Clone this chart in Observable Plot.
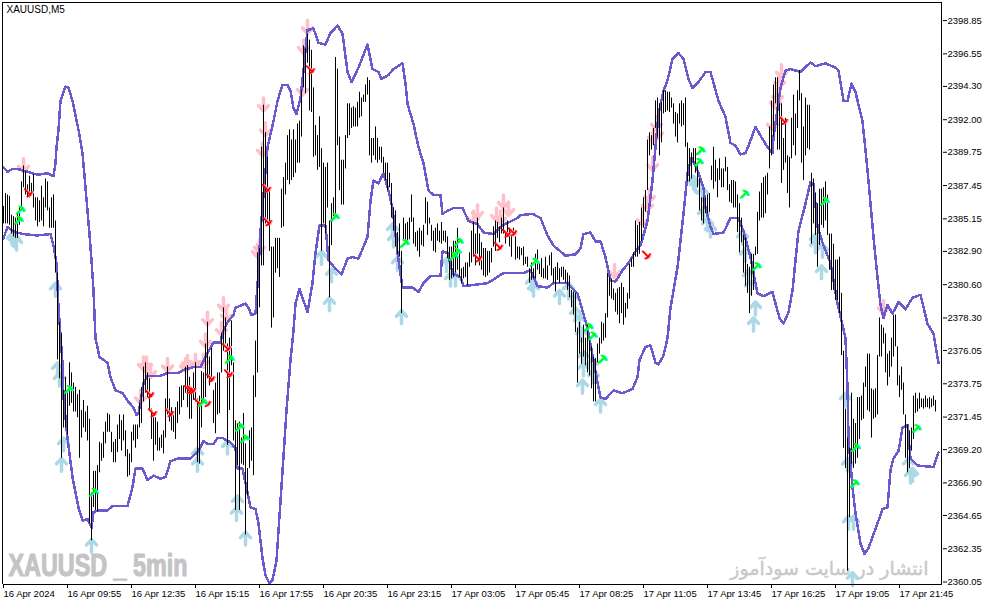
<!DOCTYPE html>
<html><head><meta charset="utf-8">
<script src="https://cdn.jsdelivr.net/npm/d3@7"></script>
<script src="https://cdn.jsdelivr.net/npm/@observablehq/plot@0.6"></script>
<style>html,body{margin:0;padding:0;background:#fff}svg{display:block}</style>
</head><body><div id="chart"></div>
<script>
const chartTitle = "XAUUSD,M5";
const watermarkLeft = "XAUUSD _ 5min";
const watermarkRight = "انتشار در سایت سودآموز";
const priceTicks = [2398.85,2396.55,2394.30,2392.00,2389.75,2387.45,2385.15,2382.90,2380.60,2378.30,2376.05,2373.75,2371.45,2369.20,2366.90,2364.65,2362.35,2360.05];
const timeLabels = ["16 Apr 2024","16 Apr 09:55","16 Apr 12:35","16 Apr 15:15","16 Apr 17:55","16 Apr 20:35","16 Apr 23:15","17 Apr 03:05","17 Apr 05:45","17 Apr 08:25","17 Apr 11:05","17 Apr 13:45","17 Apr 16:25","17 Apr 19:05","17 Apr 21:45"];
const barsPerLabel = 32;

// [high, low] of each 5-minute bar
const barsA = [[2386.0,2384.8],[2386.9,2384.8],[2386.8,2384.8],[2386.7,2384.7],[2385.4,2384.1],[2385.3,2383.9],[2385.2,2383.8],[2385.6,2383.8],[2385.9,2384.7],[2387.7,2385.7],[2388.8,2387.3],[2388.4,2386.8],[2387.5,2386.6],[2388.1,2386.6],[2387.6,2386.8],[2388.2,2385.9],[2386.6,2385.0],[2386.6,2384.6],[2386.4,2384.9],[2387.4,2385.0],[2386.6,2384.6],[2387.9,2385.9],[2387.7,2385.7],[2385.9,2384.5],[2386.6,2384.5],[2386.8,2384.5],[2385.0,2381.4],[2381.4,2375.4],[2378.0,2374.1],[2377.2,2368.6],[2373.3,2370.7],[2374.2,2370.7],[2373.3,2370.2],[2375.2,2372.2],[2374.5,2372.4],[2373.8,2371.8],[2373.5,2371.8],[2373.0,2371.4],[2373.3,2368.6],[2371.9,2370.0],[2372.6,2370.7],[2371.8,2370.4],[2372.2,2369.8],[2371.3,2364.1],[2366.2,2362.9],[2367.7,2365.2],[2367.7,2365.0],[2368.1,2364.9],[2369.7,2367.6],[2369.6,2368.4],[2370.4,2368.6],[2371.1,2369.6],[2371.7,2370.4],[2371.6,2370.4],[2370.4,2369.0],[2369.7,2368.3],[2369.9,2368.3],[2370.9,2369.0],[2371.6,2369.9],[2371.2,2369.1],[2371.6,2369.8],[2370.5,2368.7],[2369.2,2367.3],[2368.9,2367.4],[2370.4,2368.3],[2370.9,2369.8],[2370.9,2369.3],[2370.9,2369.9],[2372.4,2370.7],[2373.5,2371.0],[2374.9,2372.5],[2375.2,2373.1],[2374.5,2372.8],[2374.1,2371.9],[2372.0,2369.9],[2371.4,2368.4],[2371.4,2369.5],[2371.1,2369.1],[2370.0,2369.1],[2370.2,2369.3],[2370.5,2368.9],[2372.7,2370.0],[2374.9,2371.6],[2372.7,2371.1],[2372.1,2370.5],[2371.6,2370.4],[2372.1,2369.9],[2372.5,2371.0],[2373.5,2371.6],[2373.6,2372.1],[2373.6,2372.6],[2374.9,2373.1],[2375.0,2372.1],[2374.2,2371.3],[2373.5,2371.3],[2374.5,2372.6],[2375.2,2372.5],[2372.7,2368.3],[2372.9,2368.2],[2374.6,2370.7],[2374.5,2372.6],[2376.5,2372.8],[2378.0,2374.1],[2375.6,2373.6],[2376.2,2374.0],[2373.3,2371.0],[2373.8,2370.3],[2374.5,2371.6],[2374.5,2371.7],[2377.2,2374.5],[2379.0,2376.0],[2378.3,2376.5],[2376.5,2369.5],[2376.9,2371.9],[2378.1,2375.0],[2375.2,2369.8],[2371.2,2365.0],[2371.0,2368.1],[2371.1,2365.0],[2370.0,2368.2],[2371.7,2368.1],[2369.6,2363.3],[2367.9,2366.0],[2370.5,2367.9],[2370.7,2368.4],[2374.3,2367.4],[2376.7,2372.8],[2382.8,2374.5],[2383.1,2379.0],[2390.1,2381.9]];
const barsB = [[2393.0,2381.9],[2391.1,2384.8],[2389.4,2384.8],[2387.1,2382.9],[2383.2,2377.6],[2383.2,2378.3],[2383.8,2381.4],[2383.8,2381.7],[2383.8,2381.1],[2387.2,2384.5],[2388.0,2384.6],[2389.0,2386.8],[2390.9,2387.8],[2391.3,2387.5],[2390.6,2387.8],[2391.3,2388.0],[2390.6,2388.3],[2391.7,2389.0],[2391.9,2389.0],[2394.0,2390.8],[2397.1,2394.2],[2396.9,2393.8],[2397.9,2395.9],[2397.5,2392.6],[2396.8,2392.5],[2394.2,2389.4],[2391.6,2389.5],[2390.9,2388.5],[2392.2,2388.7],[2390.0,2382.9],[2389.0,2384.8],[2388.7,2384.1],[2389.0,2385.9],[2385.0,2379.7],[2386.2,2383.3],[2386.6,2385.3],[2396.3,2385.2],[2395.5,2390.2],[2390.8,2387.1],[2389.2,2386.1],[2389.2,2386.1],[2390.9,2388.6],[2393.1,2390.7],[2393.1,2390.9],[2392.8,2391.4],[2392.9,2391.5],[2392.8,2391.5],[2393.2,2391.5],[2393.9,2392.1],[2393.5,2392.2],[2393.7,2393.2],[2394.4,2393.2],[2394.9,2393.7],[2394.7,2389.5],[2390.7,2389.0],[2390.7,2389.5],[2391.5,2389.2],[2390.7,2389.0],[2390.1,2389.2],[2390.1,2389.0],[2389.4,2388.3],[2389.0,2387.8],[2389.0,2387.1],[2388.3,2387.3],[2387.6,2385.2],[2385.9,2384.3],[2385.7,2383.2],[2384.2,2382.7],[2384.8,2382.5],[2382.9,2378.6],[2385.2,2383.6],[2384.8,2383.4],[2384.9,2383.6],[2385.2,2383.7],[2386.8,2384.9],[2385.2,2383.4],[2384.2,2383.2],[2384.3,2382.9],[2384.5,2382.5],[2384.3,2383.3],[2384.7,2383.2],[2386.6,2384.8],[2386.3,2384.0],[2385.2,2384.8],[2384.7,2383.6],[2384.3,2382.9],[2384.5,2382.8],[2384.8,2383.6],[2384.3,2383.5],[2384.9,2383.4],[2384.3,2383.6],[2384.3,2383.5],[2383.9,2382.4],[2383.2,2380.9],[2383.2,2381.0],[2383.6,2381.1],[2383.6,2381.4],[2384.5,2381.6],[2382.9,2381.1],[2381.7,2380.7],[2381.8,2381.0],[2382.1,2381.1],[2382.1,2380.5],[2382.8,2381.8],[2384.3,2382.1],[2384.9,2382.5],[2384.1,2381.9],[2385.2,2382.7],[2384.1,2381.9],[2383.5,2381.6],[2383.1,2381.2],[2383.1,2381.1],[2382.9,2381.2],[2382.9,2381.4],[2383.1,2382.1],[2384.6,2383.2],[2385.0,2382.9],[2384.9,2383.8],[2384.6,2383.5],[2385.2,2384.1],[2385.9,2384.1],[2384.3,2383.4],[2385.0,2383.9],[2384.5,2383.2],[2383.9,2382.5],[2384.5,2383.9],[2383.9,2382.3],[2383.2,2382.4],[2383.2,2382.3],[2383.1,2382.6],[2383.2,2381.9],[2382.5,2382.0]];
const barsC = [[2382.5,2381.8],[2381.7,2380.7],[2382.1,2380.9],[2381.7,2381.0],[2382.7,2381.0],[2383.0,2381.6],[2382.1,2381.3],[2382.4,2381.1],[2381.7,2381.0],[2382.5,2381.0],[2381.9,2380.9],[2382.6,2381.9],[2382.8,2381.2],[2381.7,2380.7],[2381.8,2380.1],[2382.1,2380.9],[2381.7,2380.7],[2381.8,2381.1],[2381.8,2380.9],[2381.6,2380.7],[2381.4,2380.2],[2381.2,2379.7],[2380.2,2379.0],[2380.1,2378.5],[2380.0,2377.3],[2377.6,2373.8],[2378.0,2375.8],[2376.9,2375.1],[2377.8,2375.6],[2376.9,2375.0],[2377.9,2374.5],[2376.9,2374.3],[2376.3,2373.4],[2375.6,2372.5],[2375.5,2372.5],[2376.5,2375.2],[2376.9,2375.8],[2378.0,2376.5],[2377.9,2376.7],[2378.6,2376.9],[2381.4,2378.3],[2381.1,2379.8],[2381.0,2379.6],[2380.3,2379.5],[2380.0,2378.7],[2380.3,2378.5],[2380.4,2377.9],[2380.7,2378.6],[2380.4,2377.8],[2379.3,2378.3],[2380.0,2378.9],[2382.0,2379.6],[2382.4,2381.8],[2382.8,2381.8],[2385.0,2382.5],[2384.7,2382.5],[2384.9,2382.7],[2385.9,2383.6],[2386.6,2384.5],[2387.1,2385.6],[2390.6,2387.1],[2391.1,2389.5],[2390.9,2389.9],[2391.4,2390.2],[2393.3,2391.4],[2393.5,2390.8],[2393.1,2389.5],[2393.2,2390.4],[2394.0,2392.4],[2394.0,2392.5],[2393.9,2392.6],[2393.9,2392.5],[2393.5,2392.8],[2393.1,2391.7],[2392.5,2390.8],[2392.4,2390.4],[2393.1,2391.7],[2393.3,2391.5],[2393.1,2391.6],[2393.5,2390.1],[2390.4,2387.7],[2390.0,2387.7],[2389.7,2387.9],[2390.0,2389.0],[2390.0,2388.3],[2389.0,2387.3],[2387.9,2385.7],[2386.6,2385.0],[2386.6,2384.8],[2386.6,2385.5],[2386.8,2385.5],[2386.9,2385.6],[2388.8,2387.8],[2390.1,2387.2],[2389.2,2387.7],[2388.6,2386.6],[2389.3,2387.8],[2388.6,2387.3],[2388.6,2387.3],[2389.4,2388.4],[2388.7,2387.1],[2387.5,2386.3],[2387.8,2386.2],[2387.8,2385.9],[2387.7,2385.9]];
const barsD = [[2386.8,2384.2],[2386.2,2382.8],[2385.2,2383.5],[2384.0,2381.4],[2383.8,2380.5],[2382.0,2380.0],[2381.8,2378.6],[2382.7,2379.8],[2382.7,2380.2],[2383.2,2382.6],[2385.6,2382.7],[2387.0,2385.0],[2387.6,2385.2],[2388.0,2385.2],[2388.1,2385.5],[2388.3,2386.8],[2391.5,2388.6],[2393.3,2389.5],[2394.4,2390.8],[2394.9,2393.1],[2394.9,2389.9],[2393.1,2389.9],[2393.1,2387.6],[2390.7,2388.5],[2392.1,2389.0],[2389.5,2386.9],[2389.4,2385.9],[2392.1,2389.3],[2393.7,2390.2],[2392.4,2389.5],[2394.0,2391.4],[2395.4,2393.3],[2393.8,2389.0],[2391.5,2387.8],[2393.5,2389.5],[2393.0,2390.0],[2393.0,2389.9],[2388.3,2383.4],[2387.9,2384.8],[2386.9,2384.0],[2386.2,2381.8],[2387.2,2383.3],[2387.2,2384.7],[2387.3,2384.5],[2387.7,2385.0],[2386.8,2384.0],[2384.1,2381.6],[2384.1,2380.2],[2383.4,2380.2],[2382.3,2379.5],[2382.3,2379.5],[2382.5,2378.6],[2380.0,2375.7],[2376.0,2369.3],[2372.0,2367.9],[2370.0,2360.8],[2369.3,2364.5],[2373.1,2368.2],[2371.3,2367.9],[2371.0,2368.2],[2372.8,2368.6],[2372.8,2369.9],[2372.9,2371.2],[2373.8,2371.3],[2374.9,2373.5],[2375.8,2371.9],[2375.8,2371.8],[2373.4,2370.0],[2373.3,2371.3],[2373.4,2371.4],[2375.7,2371.6],[2378.3,2375.6],[2377.8,2375.6],[2377.6,2376.5],[2377.2,2374.5],[2375.8,2373.6],[2376.0,2374.2],[2376.9,2374.9],[2378.5,2375.6],[2378.5,2376.3],[2376.3,2373.6],[2374.3,2372.8],[2374.9,2373.3],[2373.8,2371.6],[2371.6,2368.6],[2370.9,2367.6],[2370.5,2367.9],[2370.7,2369.1],[2372.9,2369.9],[2373.1,2371.7],[2372.7,2371.8],[2373.1,2372.0],[2372.7,2372.1],[2372.7,2372.0],[2372.9,2372.1],[2372.7,2372.1],[2372.8,2372.0],[2372.7,2372.1],[2372.9,2372.2],[2372.6,2371.8]];

// [bar, price] knots of the envelope
const upperBand = [[0,2388.7],[2,2388.4],[4.5,2388.6],[7,2388.6],[14.5,2388.3],[17,2388.2],[22,2388.3],[25,2388.1],[26,2389.0],[26.5,2390.1],[27.5,2391.3],[28.5,2393.3],[31,2394.3],[32.5,2394.2],[34.5,2393.3],[37.5,2391.3],[39.5,2389.7],[41,2387.3],[42,2385.7],[43,2384.1],[44,2382.3],[45,2380.2],[46,2376.9],[48,2375.6],[52,2375.2],[53.5,2374.2],[56,2373.3],[59.5,2373.1],[62.5,2372.5],[65,2372.1],[66.5,2371.6],[67.5,2371.7],[70,2373.8],[72,2374.3],[78.5,2374.3],[82,2374.5],[87.5,2374.5],[90,2374.7],[95,2374.9],[98.5,2374.9],[102.5,2376.0],[105,2376.6],[108.5,2376.6],[109.5,2377.3],[112,2378.0],[115,2378.5],[116,2379.0],[121,2379.3],[122.5,2379.0],[124,2378.5],[126,2378.6],[127.5,2381.6],[128.5,2384.3],[132,2390.1],[135,2391.9],[137,2393.3],[139.5,2394.4],[142,2394.4],[143.5,2394.0],[145,2392.8],[146.5,2392.4],[148.5,2393.5],[150,2395.4],[152,2398.2],[155,2398.3],[157.5,2397.3],[161,2397.2],[163.5,2398.0],[167,2398.5],[169.5,2397.96],[172,2395.3],[174,2394.6],[177.5,2395.6],[182,2397.2],[184.5,2395.5],[187.5,2395.3],[189,2394.8],[192.5,2395.1],[195,2395.5],[199.5,2395.9],[201,2394.5],[202,2393.1],[205,2391.7],[207.5,2390.1],[210,2389.0],[212.5,2387.1],[215,2386.8],[218.5,2386.8],[219.5,2385.5],[222,2385.7],[225,2385.9],[229.5,2385.9],[232.5,2385.0],[237,2384.8],[240,2384.2],[245,2384.1],[249.5,2384.7],[257,2385.2],[258.5,2385.4],[264.5,2385.5],[268.5,2385.2],[272,2384.0],[275,2383.3],[281,2382.6],[286,2382.7],[288.5,2383.1],[290,2384.1],[293.5,2384.2],[296,2383.6],[298.5,2383.6],[301,2382.5],[303.5,2380.9],[306,2380.8],[309.5,2381.6],[312.5,2382.1],[316,2382.9],[318.5,2383.3],[322,2385.0],[324.5,2387.8],[327.5,2392.4],[330,2394.0],[332,2394.7],[334.5,2396.2],[337.5,2396.6],[340,2396.2],[342.5,2394.8],[344.5,2394.2],[347.5,2394.6],[351,2395.3],[353.5,2395.3],[357.5,2393.3],[361,2392.2],[363.5,2390.4],[366,2390.2],[368.5,2389.6],[371,2389.7],[372.5,2390.2],[376,2391.5],[378.5,2390.9],[382,2390.1],[384.5,2389.7],[385,2390.8],[388.5,2394.2],[391,2395.4],[393.5,2395.5],[398.5,2395.3],[403.5,2395.96],[406,2395.7],[411,2395.9],[416,2395.6],[417.5,2395.4],[420,2393.3],[422,2393.3],[424,2394.5],[426,2393.9],[429.5,2391.9],[432,2388.5],[435,2383.9],[437,2381.1],[438.5,2379.2],[440,2378.3],[442,2379.2],[444.5,2378.6],[447.5,2379.4],[451,2378.9],[454.5,2379.7],[458.5,2379.9],[462,2377.9],[465,2377.2],[467.5,2375.2]];
const lowerBand = [[0,2383.8],[2,2384.6],[4.5,2384.3],[9.5,2384.1],[17,2384.0],[23.5,2384.1],[25,2383.3],[26.5,2382.1],[27.5,2379.0],[29.5,2375.2],[30,2372.8],[32,2370.0],[34.5,2367.3],[37.5,2365.2],[39.5,2364.3],[42,2364.4],[44,2363.8],[45,2364.9],[47.5,2365.0],[52,2365.0],[54.5,2365.3],[62,2365.3],[64.5,2366.6],[66,2367.9],[69.5,2367.9],[72,2367.1],[75,2367.4],[78.5,2367.2],[81,2367.3],[83.5,2368.4],[87.5,2368.6],[93.5,2368.6],[97.5,2369.1],[100,2369.8],[102,2369.6],[105,2369.6],[107,2370.0],[109.5,2370.0],[113.5,2369.7],[116,2369.3],[117,2367.9],[119.5,2367.9],[122.5,2365.9],[123.5,2365.2],[126,2365.1],[127.5,2364.1],[129.5,2361.7],[131,2360.5],[133,2359.95],[134.5,2360.2],[136.5,2361.5],[137.5,2363.6],[139.5,2367.7],[141.5,2371.9],[143.5,2375.4],[145,2377.4],[146,2379.3],[148,2380.3],[150,2379.5],[152,2378.7],[154.5,2380.7],[156,2382.8],[158,2384.7],[161,2384.7],[162.5,2382.3],[166,2381.7],[169,2381.3],[172,2382.4],[174.5,2382.5],[177.5,2382.4],[182,2383.9],[183.5,2386.4],[185,2387.8],[187.5,2387.6],[190,2388.3],[192.5,2387.1],[194.5,2385.9],[197,2382.8],[199.5,2380.4],[204.5,2380.4],[207.5,2380.1],[210,2380.7],[213.5,2381.2],[218.5,2381.2],[219.5,2382.9],[222,2382.8],[224.5,2381.4],[228.5,2381.1],[230,2380.5],[242,2380.7],[250,2381.4],[252.5,2381.4],[260,2381.4],[263.5,2381.6],[267,2380.5],[272,2380.4],[275,2380.7],[282,2380.7],[287,2380.0],[292,2377.6],[297.5,2373.5],[298.5,2372.8],[301,2372.7],[305,2373.3],[309.5,2373.1],[314.5,2373.4],[317,2374.2],[318,2375.4],[321,2376.3],[323.5,2376.4],[326,2375.2],[327.5,2375.1],[330,2375.7],[332,2376.9],[333.5,2379.0],[337,2381.8],[340,2385.5],[342,2388.3],[344,2389.4],[347,2388.5],[350,2387.3],[351,2385.9],[353.5,2384.6],[355,2384.1],[360,2384.2],[363.5,2385.2],[367.5,2385.2],[370,2384.3],[373.5,2382.5],[377,2380.0],[380,2379.8],[384.5,2380.1],[386,2379.3],[388,2378.3],[390,2377.9],[392.5,2378.7],[394.5,2380.2],[396,2382.3],[397.5,2384.3],[401,2386.2],[403.5,2387.7],[405,2387.6],[407,2384.6],[410,2383.3],[413.5,2382.1],[417,2379.3],[421,2376.9],[422,2373.5],[422.5,2370.0],[424.5,2366.6],[426,2364.8],[428.5,2362.7],[430.5,2362.0],[432.5,2362.4],[437,2364.1],[439.5,2365.1],[442,2365.2],[443.5,2367.8],[445,2368.6],[447.5,2369.1],[449.5,2370.7],[452,2370.9],[453.5,2368.6],[457,2368.1],[465,2368.0],[467.5,2369.0]];

// [bar, price] of the signal arrows
const sellSignals = [[10,2388.4],[127,2382.5],[128,2382.8],[130,2392.6],[131,2390.9],[129.5,2389.5],[149.5,2393.7],[150,2396.6],[152,2397.96],[70,2374.7],[71.5,2374.7],[73.5,2374.2],[68.5,2372.4],[82,2374.6],[91,2374.6],[92,2374.8],[96,2374.9],[100,2374.9],[102,2377.8],[101,2376.3],[109,2377.1],[110,2378.8],[111.5,2378.1],[235,2384.8],[237,2385.2],[246.5,2385.0],[250,2385.9],[252.5,2385.4],[248.5,2384.8],[305.5,2381.1],[319.5,2384.7],[322,2385.7],[323,2386.3],[324.5,2388.5],[325,2390.4],[327,2390.7],[326.5,2391.3],[384.5,2391.3],[386,2392.8],[387,2393.2],[388,2394.2],[389,2394.9],[440,2378.6]];
const buySignals = [[5.5,2384.1],[6.5,2383.9],[4.5,2384.2],[26,2380.7],[27,2375.2],[28,2374.5],[30,2370.0],[29,2368.6],[44,2363.0],[97,2369.3],[97,2368.6],[112,2369.8],[117,2366.0],[116.5,2365.2],[121,2363.5],[159,2382.9],[164,2381.7],[163,2379.7],[194.5,2384.8],[195,2384.1],[197,2382.5],[199,2378.8],[221.5,2382.4],[223.5,2381.4],[226,2381.4],[264,2381.1],[265,2380.7],[278,2380.2],[282.5,2380.7],[285,2380.0],[286,2379.0],[288,2378.5],[289,2377.6],[290,2376.0],[290,2375.2],[289.5,2374.0],[294.5,2375.5],[295,2374.7],[298.5,2372.7],[346,2387.9],[345,2388.1],[349.5,2387.3],[350,2385.9],[352,2385.2],[353.5,2384.8],[369.5,2384.3],[371,2383.1],[372.5,2381.6],[373.5,2380.9],[376,2379.4],[375,2378.3],[406,2384.1],[406,2383.7],[409.5,2383.4],[409,2381.9],[421,2373.1],[422,2368.6],[422.5,2364.6],[425,2364.6],[424.5,2360.7],[452.5,2368.6],[454.5,2367.9],[453.5,2367.8]];
const greenMarks = [[8,2385.7],[7,2385.0],[32,2373.3],[44.5,2366.2],[99,2372.4],[112.5,2375.4],[117.5,2370.7],[120,2369.9],[165,2385.2],[200,2383.4],[227,2383.5],[226,2382.8],[224.5,2382.5],[265,2382.1],[292,2377.6],[294,2377.0],[299,2375.4],[348,2389.8],[347,2389.0],[370,2386.8],[376,2381.8],[410,2386.3],[425.5,2369.3],[425,2366.8],[456,2370.6]];
const redMarks = [[12,2387.0],[72.5,2373.1],[74,2371.8],[82.5,2371.8],[92,2373.4],[93.5,2373.4],[97,2372.5],[101,2372.5],[103,2374.2],[111,2376.3],[112,2374.5],[131,2387.3],[131.5,2385.0],[153,2395.5],[236.5,2382.5],[247,2383.3],[251,2384.2],[254,2384.3],[321,2382.7],[389.5,2392.0]];

const bars = [...barsA, ...barsB, ...barsC, ...barsD];
const bx = d => d[0], by = d => d[1];
const timeTicks = timeLabels.map((_, i) => i * barsPerLabel);
const font = "'Liberation Sans', Arial, sans-serif";
const chevronArrow = (wing, back) => ({
  draw(context, l) {
    context.moveTo(0, 0);
    context.lineTo(0, -l);
    context.moveTo(-wing, back - l);
    context.lineTo(0, -l);
    context.lineTo(wing, back - l);
  }
});
const bigArrow = chevronArrow(5, 5.5);
const smallArrow = chevronArrow(3.2, 1);

const chart = Plot.plot({
  width: 987, height: 605,
  marginLeft: 3, marginRight: 45, marginTop: 2, marginBottom: 21,
  x: {domain: [0, 469.5], axis: null},
  y: {domain: [2359.88, 2400.10], axis: null},
  style: {background: "#fff", fontFamily: font, fontSize: "10px", color: "#000"},
  marks: [
    Plot.text([watermarkLeft], {frameAnchor: "bottom-left", dx: 5, dy: -9, text: d => d, fontFamily: font, fontWeight: "bold", fontSize: 32, fill: "#c4c4c4", stroke: "#c4c4c4", strokeWidth: 1.2, textAnchor: "start", lineAnchor: "bottom", className: "wm-left"}),
    Plot.text([watermarkRight], {frameAnchor: "bottom-right", dx: -14, dy: -10, text: d => d, fontFamily: "'DejaVu Sans',sans-serif", fontSize: 19, fill: "#c8c8c8", stroke: "#c8c8c8", strokeWidth: 0.4, textAnchor: "end", lineAnchor: "bottom"}),
    Plot.vector(sellSignals, {x: bx, y: by, rotate: 180, length: 13, anchor: "end", shape: bigArrow, stroke: "#ffc0cb", strokeWidth: 3.5}),
    Plot.vector(buySignals, {x: bx, y: by, rotate: 0, length: 13, anchor: "end", shape: bigArrow, stroke: "#add8e6", strokeWidth: 3.5}),
    Plot.line(upperBand, {x: bx, y: by, stroke: "#6a5acd", strokeWidth: 2.5, shapeRendering: "crispEdges"}),
    Plot.line(lowerBand, {x: bx, y: by, stroke: "#6a5acd", strokeWidth: 2.5, shapeRendering: "crispEdges"}),
    Plot.ruleX(bars, {x: (d, i) => i, y1: d => d[1], y2: d => d[0], stroke: "#000", strokeWidth: 1}),
    Plot.vector(redMarks, {x: bx, y: by, rotate: 135, length: 8, anchor: "middle", shape: smallArrow, stroke: "#ffb0c0", strokeWidth: 1.6, dx: 1.5}),
    Plot.vector(redMarks, {x: bx, y: by, rotate: 135, length: 8, anchor: "middle", shape: smallArrow, stroke: "#ff0000", strokeWidth: 1.8}),
    Plot.vector(greenMarks, {x: bx, y: by, rotate: 45, length: 8, anchor: "middle", shape: smallArrow, stroke: "#00ffff", strokeWidth: 1.6, dx: 1.5}),
    Plot.vector(greenMarks, {x: bx, y: by, rotate: 45, length: 8, anchor: "middle", shape: smallArrow, stroke: "#00ff00", strokeWidth: 1.8}),
    Plot.ruleX([-0.5, 469], {stroke: "#000"}),
    Plot.ruleY([2359.88, 2400.10], {stroke: "#000"}),
    Plot.axisY({anchor: "right", ticks: priceTicks, tickFormat: d => d.toFixed(2), tickSize: 4, tickPadding: 1, label: null, textAnchor: "start", fontSize: 9.5}),
    Plot.axisX({anchor: "bottom", ticks: timeTicks, tickFormat: (d, i) => timeLabels[i], tickSize: 4, tickPadding: 2, label: null, textAnchor: "start", fontSize: 9.5}),
    Plot.text([chartTitle], {frameAnchor: "top-left", dx: 3, dy: 3, text: d => d, fontSize: 10, fill: "#000", textAnchor: "start", lineAnchor: "top"})
  ]
});
d3.select(chart).selectAll(".wm-left text").attr("textLength", 179).attr("lengthAdjust", "spacingAndGlyphs");
document.getElementById("chart").appendChild(chart);
</script></body></html>
